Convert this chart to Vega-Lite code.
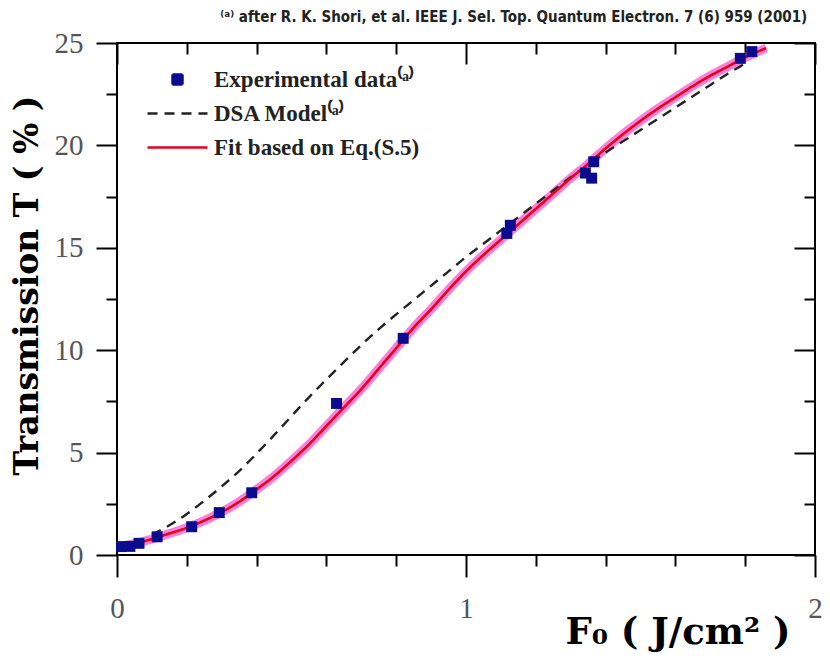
{
  "$schema": "https://vega.github.io/schema/vega-lite/v6.json",
  "autosize": {"type": "none"},
  "padding": {"left": 117, "top": 43, "right": 15, "bottom": 108},
  "width": 698,
  "height": 512,
  "background": "white",
  "title": {
    "text": "⁽ᵃ⁾ after R. K. Shori, et al. IEEE J. Sel. Top. Quantum Electron. 7 (6) 959 (2001)",
    "anchor": "end",
    "dx": -15,
    "offset": 4,
    "font": "Liberation Sans Narrow, DejaVu Sans Condensed, sans-serif",
    "fontSize": 15,
    "fontWeight": "bold",
    "color": "#222222"
  },
  "datasets": {
    "points": [
      {"F0": 0.013, "T": 0.41, "series": "Experimental data⁽ᵃ⁾"},
      {"F0": 0.037, "T": 0.42, "series": "Experimental data⁽ᵃ⁾"},
      {"F0": 0.063, "T": 0.57, "series": "Experimental data⁽ᵃ⁾"},
      {"F0": 0.115, "T": 0.89, "series": "Experimental data⁽ᵃ⁾"},
      {"F0": 0.214, "T": 1.38, "series": "Experimental data⁽ᵃ⁾"},
      {"F0": 0.293, "T": 2.07, "series": "Experimental data⁽ᵃ⁾"},
      {"F0": 0.386, "T": 3.04, "series": "Experimental data⁽ᵃ⁾"},
      {"F0": 0.629, "T": 7.4, "series": "Experimental data⁽ᵃ⁾"},
      {"F0": 0.82, "T": 10.58, "series": "Experimental data⁽ᵃ⁾"},
      {"F0": 1.117, "T": 15.7, "series": "Experimental data⁽ᵃ⁾"},
      {"F0": 1.127, "T": 16.1, "series": "Experimental data⁽ᵃ⁾"},
      {"F0": 1.342, "T": 18.65, "series": "Experimental data⁽ᵃ⁾"},
      {"F0": 1.36, "T": 18.4, "series": "Experimental data⁽ᵃ⁾"},
      {"F0": 1.366, "T": 19.2, "series": "Experimental data⁽ᵃ⁾"},
      {"F0": 1.786, "T": 24.25, "series": "Experimental data⁽ᵃ⁾"},
      {"F0": 1.819, "T": 24.58, "series": "Experimental data⁽ᵃ⁾"}
    ],
    "dsa": [
      {"F0": 0.1, "T": 1.0, "series": "DSA Model⁽ᵃ⁾"},
      {"F0": 0.15, "T": 1.45, "series": "DSA Model⁽ᵃ⁾"},
      {"F0": 0.2, "T": 2.0, "series": "DSA Model⁽ᵃ⁾"},
      {"F0": 0.25, "T": 2.65, "series": "DSA Model⁽ᵃ⁾"},
      {"F0": 0.3, "T": 3.35, "series": "DSA Model⁽ᵃ⁾"},
      {"F0": 0.35, "T": 4.1, "series": "DSA Model⁽ᵃ⁾"},
      {"F0": 0.4, "T": 4.95, "series": "DSA Model⁽ᵃ⁾"},
      {"F0": 0.45, "T": 5.85, "series": "DSA Model⁽ᵃ⁾"},
      {"F0": 0.5, "T": 6.78, "series": "DSA Model⁽ᵃ⁾"},
      {"F0": 0.55, "T": 7.7, "series": "DSA Model⁽ᵃ⁾"},
      {"F0": 0.6, "T": 8.57, "series": "DSA Model⁽ᵃ⁾"},
      {"F0": 0.65, "T": 9.42, "series": "DSA Model⁽ᵃ⁾"},
      {"F0": 0.7, "T": 10.25, "series": "DSA Model⁽ᵃ⁾"},
      {"F0": 0.75, "T": 11.03, "series": "DSA Model⁽ᵃ⁾"},
      {"F0": 0.8, "T": 11.75, "series": "DSA Model⁽ᵃ⁾"},
      {"F0": 0.85, "T": 12.45, "series": "DSA Model⁽ᵃ⁾"},
      {"F0": 0.9, "T": 13.15, "series": "DSA Model⁽ᵃ⁾"},
      {"F0": 0.95, "T": 13.85, "series": "DSA Model⁽ᵃ⁾"},
      {"F0": 1.0, "T": 14.55, "series": "DSA Model⁽ᵃ⁾"},
      {"F0": 1.05, "T": 15.2, "series": "DSA Model⁽ᵃ⁾"},
      {"F0": 1.1, "T": 15.85, "series": "DSA Model⁽ᵃ⁾"},
      {"F0": 1.15, "T": 16.5, "series": "DSA Model⁽ᵃ⁾"},
      {"F0": 1.2, "T": 17.15, "series": "DSA Model⁽ᵃ⁾"},
      {"F0": 1.25, "T": 17.8, "series": "DSA Model⁽ᵃ⁾"},
      {"F0": 1.3, "T": 18.45, "series": "DSA Model⁽ᵃ⁾"},
      {"F0": 1.35, "T": 19.05, "series": "DSA Model⁽ᵃ⁾"},
      {"F0": 1.4, "T": 19.65, "series": "DSA Model⁽ᵃ⁾"},
      {"F0": 1.45, "T": 20.2, "series": "DSA Model⁽ᵃ⁾"},
      {"F0": 1.5, "T": 20.75, "series": "DSA Model⁽ᵃ⁾"},
      {"F0": 1.55, "T": 21.3, "series": "DSA Model⁽ᵃ⁾"},
      {"F0": 1.6, "T": 21.85, "series": "DSA Model⁽ᵃ⁾"},
      {"F0": 1.65, "T": 22.4, "series": "DSA Model⁽ᵃ⁾"},
      {"F0": 1.7, "T": 22.95, "series": "DSA Model⁽ᵃ⁾"},
      {"F0": 1.75, "T": 23.5, "series": "DSA Model⁽ᵃ⁾"},
      {"F0": 1.8, "T": 24.0, "series": "DSA Model⁽ᵃ⁾"},
      {"F0": 1.81, "T": 24.1, "series": "DSA Model⁽ᵃ⁾"}
    ],
    "fit": [
      {"F0": 0.0, "T": 0.4, "series": "Fit based on Eq.(S.5)"},
      {"F0": 0.05, "T": 0.55, "series": "Fit based on Eq.(S.5)"},
      {"F0": 0.1, "T": 0.78, "series": "Fit based on Eq.(S.5)"},
      {"F0": 0.15, "T": 1.05, "series": "Fit based on Eq.(S.5)"},
      {"F0": 0.2, "T": 1.33, "series": "Fit based on Eq.(S.5)"},
      {"F0": 0.25, "T": 1.68, "series": "Fit based on Eq.(S.5)"},
      {"F0": 0.3, "T": 2.1, "series": "Fit based on Eq.(S.5)"},
      {"F0": 0.35, "T": 2.6, "series": "Fit based on Eq.(S.5)"},
      {"F0": 0.4, "T": 3.2, "series": "Fit based on Eq.(S.5)"},
      {"F0": 0.45, "T": 3.85, "series": "Fit based on Eq.(S.5)"},
      {"F0": 0.5, "T": 4.6, "series": "Fit based on Eq.(S.5)"},
      {"F0": 0.55, "T": 5.4, "series": "Fit based on Eq.(S.5)"},
      {"F0": 0.6, "T": 6.3, "series": "Fit based on Eq.(S.5)"},
      {"F0": 0.65, "T": 7.2, "series": "Fit based on Eq.(S.5)"},
      {"F0": 0.7, "T": 8.1, "series": "Fit based on Eq.(S.5)"},
      {"F0": 0.75, "T": 9.1, "series": "Fit based on Eq.(S.5)"},
      {"F0": 0.8, "T": 10.1, "series": "Fit based on Eq.(S.5)"},
      {"F0": 0.85, "T": 11.1, "series": "Fit based on Eq.(S.5)"},
      {"F0": 0.9, "T": 12.0, "series": "Fit based on Eq.(S.5)"},
      {"F0": 0.95, "T": 12.95, "series": "Fit based on Eq.(S.5)"},
      {"F0": 1.0, "T": 13.85, "series": "Fit based on Eq.(S.5)"},
      {"F0": 1.05, "T": 14.65, "series": "Fit based on Eq.(S.5)"},
      {"F0": 1.1, "T": 15.4, "series": "Fit based on Eq.(S.5)"},
      {"F0": 1.15, "T": 16.15, "series": "Fit based on Eq.(S.5)"},
      {"F0": 1.2, "T": 16.9, "series": "Fit based on Eq.(S.5)"},
      {"F0": 1.25, "T": 17.65, "series": "Fit based on Eq.(S.5)"},
      {"F0": 1.3, "T": 18.4, "series": "Fit based on Eq.(S.5)"},
      {"F0": 1.35, "T": 19.1, "series": "Fit based on Eq.(S.5)"},
      {"F0": 1.4, "T": 19.85, "series": "Fit based on Eq.(S.5)"},
      {"F0": 1.45, "T": 20.55, "series": "Fit based on Eq.(S.5)"},
      {"F0": 1.5, "T": 21.2, "series": "Fit based on Eq.(S.5)"},
      {"F0": 1.55, "T": 21.8, "series": "Fit based on Eq.(S.5)"},
      {"F0": 1.6, "T": 22.35, "series": "Fit based on Eq.(S.5)"},
      {"F0": 1.65, "T": 22.9, "series": "Fit based on Eq.(S.5)"},
      {"F0": 1.7, "T": 23.4, "series": "Fit based on Eq.(S.5)"},
      {"F0": 1.75, "T": 23.85, "series": "Fit based on Eq.(S.5)"},
      {"F0": 1.8, "T": 24.3, "series": "Fit based on Eq.(S.5)"},
      {"F0": 1.86, "T": 24.75, "series": "Fit based on Eq.(S.5)"}
    ]
  },
  "layer": [
    {
      "data": {"name": "fit"},
      "mark": {"type": "line", "stroke": "#f53fc4", "strokeWidth": 9, "opacity": 0.65, "interpolate": "monotone"},
      "encoding": {
        "x": {
          "field": "F0", "type": "quantitative",
          "scale": {"domain": [0, 2], "nice": false},
          "axis": {
            "orient": "bottom", "values": [0, 1, 2], "labelExpr": "'' + datum.value", "labelOverlap": false, "labelFlush": false,
            "tickSize": 22, "labelPadding": 17,
            "title": "F₀ ( J/cm² )", "titleAlign": "right", "titleX": 673, "titleY": 88,
            "titleBaseline": "alphabetic"
          }
        },
        "y": {
          "field": "T", "type": "quantitative",
          "scale": {"domain": [0, 25], "nice": false},
          "axis": {
            "orient": "left", "values": [0, 5, 10, 15, 20, 25], "format": "d", "labelOverlap": false, "tickSize": 21, "labelPadding": 13,
            "title": "Transmission T ( % )", "titlePadding": 10, "titleY": 242, "titleAlign": "center"
          }
        }
      }
    },
    {
      "data": {"name": "dsa"},
      "mark": {"type": "line", "strokeWidth": 2.4, "interpolate": "monotone"},
      "encoding": {
        "x": {
          "field": "F0", "type": "quantitative",
          "scale": {"domain": [0, 2], "nice": false},
          "axis": {"orient": "bottom", "values": [0.2, 0.4, 0.6, 0.8, 1.2, 1.4, 1.6, 1.8], "tickSize": 11, "labels": false, "title": null}
        },
        "y": {
          "field": "T", "type": "quantitative",
          "scale": {"domain": [0, 25], "nice": false},
          "axis": {"orient": "left", "values": [2.5, 7.5, 12.5, 17.5, 22.5], "tickSize": 11, "labels": false, "title": null}
        },
        "color": {"field": "series", "type": "nominal"},
        "strokeDash": {"field": "series", "type": "nominal"}
      }
    },
    {
      "data": {"name": "fit"},
      "mark": {"type": "line", "strokeWidth": 2.6, "interpolate": "monotone"},
      "encoding": {
        "x": {
          "field": "F0", "type": "quantitative",
          "scale": {"domain": [0, 2], "nice": false},
          "axis": {"orient": "top", "values": [0, 1, 2], "tickSize": -21, "labels": false, "title": null}
        },
        "y": {
          "field": "T", "type": "quantitative",
          "scale": {"domain": [0, 25], "nice": false},
          "axis": {"orient": "right", "values": [0, 5, 10, 15, 20, 25], "tickSize": -21, "labels": false, "title": null}
        },
        "color": {"field": "series", "type": "nominal"},
        "strokeDash": {"field": "series", "type": "nominal"}
      }
    },
    {
      "data": {"name": "points"},
      "mark": {"type": "point", "filled": true, "size": 120, "opacity": 1},
      "encoding": {
        "x": {
          "field": "F0", "type": "quantitative",
          "scale": {"domain": [0, 2], "nice": false},
          "axis": {"orient": "top", "values": [0.2, 0.4, 0.6, 0.8, 1.2, 1.4, 1.6, 1.8], "tickSize": -11, "labels": false, "title": null}
        },
        "y": {
          "field": "T", "type": "quantitative",
          "scale": {"domain": [0, 25], "nice": false},
          "axis": {"orient": "right", "values": [2.5, 7.5, 12.5, 17.5, 22.5], "tickSize": -11, "labels": false, "title": null}
        },
        "shape": {
          "field": "series", "type": "nominal",
          "scale": {
            "domain": ["Experimental data⁽ᵃ⁾", "DSA Model⁽ᵃ⁾", "Fit based on Eq.(S.5)"],
            "range": ["square", "M-6,0H6", "M-6,0H6"]
          }
        },
        "strokeDash": {
          "field": "series", "type": "nominal",
          "scale": {
            "domain": ["Experimental data⁽ᵃ⁾", "DSA Model⁽ᵃ⁾", "Fit based on Eq.(S.5)"],
            "range": [[1, 0], [10, 7], [1, 0]]
          }
        },
        "color": {
          "field": "series", "type": "nominal",
          "scale": {
            "domain": ["Experimental data⁽ᵃ⁾", "DSA Model⁽ᵃ⁾", "Fit based on Eq.(S.5)"],
            "range": ["#0b0b8f", "#222222", "#e8001c"]
          },
          "legend": {
            "orient": "none", "legendX": 49, "legendY": 25, "title": null, "padding": 0,
            "symbolSize": 100, "symbolStrokeWidth": 2.5,
            "labelFont": "Liberation Serif", "labelFontSize": 23, "labelFontWeight": "bold",
            "labelColor": "#222222", "labelOffset": 25, "labelLimit": 400, "rowPadding": 10
          }
        }
      }
    }
  ],
  "resolve": {
    "scale": {"x": "shared", "y": "shared", "color": "shared", "strokeDash": "shared"},
    "axis": {"x": "independent", "y": "independent"}
  },
  "config": {
    "view": {"stroke": "#000000", "strokeWidth": 2},
    "axis": {
      "grid": false,
      "domain": false,
      "tickColor": "#000000",
      "tickWidth": 2,
      "labelFont": "Liberation Serif",
      "labelFontSize": 29,
      "labelColor": "#555555",
      "titleFont": "DejaVu Serif",
      "titleFontWeight": "bold",
      "titleColor": "#000000"
    },
    "axisX": {"titleFontSize": 37},
    "axisY": {"titleFontSize": 33}
  }
}
